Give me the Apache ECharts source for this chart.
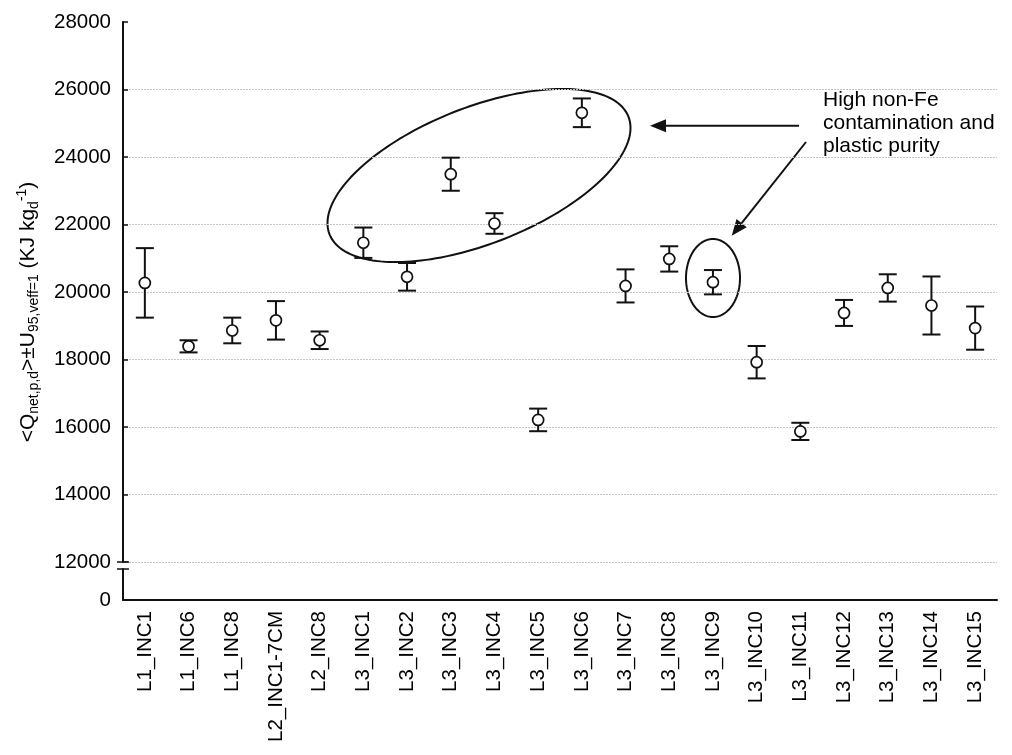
<!DOCTYPE html>
<html>
<head>
<meta charset="utf-8">
<script src="https://cdn.jsdelivr.net/npm/echarts@6/dist/echarts.min.js"></script>
<style>
  html, body { margin: 0; padding: 0; background: #fff; }
  #chart { width: 1012px; height: 755px; }
</style>
</head>
<body>
<div id="chart"></div>
<script>
// Incinerator samples
const categories = ['L1_INC1', 'L1_INC6', 'L1_INC8', 'L2_INC1-7CM', 'L2_INC8',
  'L3_INC1', 'L3_INC2', 'L3_INC3', 'L3_INC4', 'L3_INC5', 'L3_INC6', 'L3_INC7',
  'L3_INC8', 'L3_INC9', 'L3_INC10', 'L3_INC11', 'L3_INC12', 'L3_INC13',
  'L3_INC14', 'L3_INC15'];

// Mean net calorific value (KJ per kg dry)
const meanQ = [20270, 18390, 18860, 19160, 18570, 21460, 20450, 23490, 22030,
  16210, 25310, 20180, 20980, 20290, 17920, 15870, 19380, 20120, 19600, 18930];

// Expanded uncertainty U95
const U95 = [1030, 180, 380, 570, 260, 450, 410, 490, 305, 335, 425, 490, 375,
  360, 480, 255, 385, 405, 860, 640];

// Axis range of the upper (broken) segment
const yMin = 12000;
const yMax = 28000;
const yStep = 2000;

const FONT = "'Liberation Sans', Arial, sans-serif";
const INK = '#111';

const chart = echarts.init(document.getElementById('chart'), null, { renderer: 'canvas' });

const errData = categories.map((c, i) => [i, meanQ[i] - U95[i], meanQ[i] + U95[i]]);

// grid lines at every step except the top
const nLines = (yMax - yMin) / yStep + 1;
const gridColors = [];
for (let k = 0; k < nLines; k++) gridColors.push(k === nLines - 1 ? 'rgba(0,0,0,0)' : '#c4c4c4');

// ellipse outline as a polygon
function ellipsePoints(cx, cy, a, b, phiDeg) {
  const phi = phiDeg * Math.PI / 180;
  const pts = [];
  for (let k = 0; k < 180; k++) {
    const t = k / 180 * Math.PI * 2;
    pts.push([
      cx + a * Math.cos(t) * Math.cos(phi) - b * Math.sin(t) * Math.sin(phi),
      cy + a * Math.cos(t) * Math.sin(phi) + b * Math.sin(t) * Math.cos(phi)
    ]);
  }
  return pts;
}

// arrow: shaft plus filled head
function arrow(x1, y1, x2, y2) {
  const ang = Math.atan2(y2 - y1, x2 - x1);
  const L = 16, W = 6.5;
  const bx = x2 - L * Math.cos(ang), by = y2 - L * Math.sin(ang);
  const nx = -Math.sin(ang), ny = Math.cos(ang);
  return [
    { type: 'line', shape: { x1: x1, y1: y1, x2: bx, y2: by },
      style: { stroke: INK, lineWidth: 2 } },
    { type: 'polygon', shape: { points: [[x2, y2], [bx + nx * W, by + ny * W], [bx - nx * W, by - ny * W]] },
      style: { fill: INK } }
  ];
}

const option = {
  backgroundColor: '#fff',
  animation: false,
  textStyle: { fontFamily: FONT },
  grid: [
    { left: 123, right: 15, top: 22, height: 540 },
    { left: 123, right: 15, top: 569, height: 31 }
  ],
  xAxis: [
    { type: 'category', gridIndex: 0, data: categories, boundaryGap: true, show: false },
    {
      type: 'category', gridIndex: 1, data: categories, boundaryGap: true,
      axisLine: { lineStyle: { color: INK, width: 2 } },
      axisTick: { inside: true, length: 5, lineStyle: { color: INK, width: 1.5 } },
      axisLabel: { rotate: 90, interval: 0, margin: 11, color: '#000', fontSize: 20.5, fontFamily: FONT }
    }
  ],
  yAxis: [
    {
      type: 'value', gridIndex: 0, min: yMin, max: yMax, interval: yStep,
      axisLine: { show: true, lineStyle: { color: INK, width: 2 } },
      axisTick: { show: true, inside: true, length: 5, lineStyle: { color: INK, width: 1.5 } },
      axisLabel: { color: '#000', fontSize: 20.5, fontFamily: FONT, margin: 12,
        formatter: v => String(v) },
      splitLine: { show: true, lineStyle: { color: gridColors, width: 1, type: [2, 1] } }
    },
    {
      type: 'value', gridIndex: 1, min: 0, max: 1, interval: 1,
      axisLine: { show: true, lineStyle: { color: INK, width: 2 } },
      axisTick: { show: false },
      axisLabel: { color: '#000', fontSize: 20.5, fontFamily: FONT, margin: 12,
        formatter: v => (v === 0 ? '0' : '') },
      splitLine: { show: false }
    }
  ],
  series: [
    {
      type: 'custom', xAxisIndex: 0, yAxisIndex: 0, z: 3,
      data: errData,
      renderItem: function (params, api) {
        const i = api.value(0);
        const lo = api.coord([i, api.value(1)]);
        const hi = api.coord([i, api.value(2)]);
        const hw = 9;
        const st = { stroke: INK, lineWidth: 2 };
        return {
          type: 'group',
          children: [
            { type: 'line', shape: { x1: lo[0], y1: lo[1], x2: hi[0], y2: hi[1] }, style: st },
            { type: 'line', shape: { x1: hi[0] - hw, y1: hi[1], x2: hi[0] + hw, y2: hi[1] }, style: st },
            { type: 'line', shape: { x1: lo[0] - hw, y1: lo[1], x2: lo[0] + hw, y2: lo[1] }, style: st }
          ]
        };
      }
    },
    {
      type: 'scatter', xAxisIndex: 0, yAxisIndex: 0, z: 5,
      data: meanQ,
      symbol: 'circle', symbolSize: 11,
      itemStyle: { color: '#fff', borderColor: INK, borderWidth: 1.7, opacity: 1 }
    }
  ],
  graphic: [
    // axis break marks
    { type: 'line', shape: { x1: 117, y1: 562, x2: 129, y2: 562 }, style: { stroke: INK, lineWidth: 1.5 } },
    { type: 'line', shape: { x1: 117, y1: 569, x2: 129, y2: 569 }, style: { stroke: INK, lineWidth: 1.5 } },
    // y-axis title
    {
      type: 'text', x: 28, y: 312, rotation: Math.PI / 2,
      style: {
        text: '<Q{sub|net,p,d}>±U{sub|95,veff=1} (KJ kg{sub|d}{sup|-1})',
        fontSize: 21, fontFamily: FONT, fill: '#000',
        align: 'center', verticalAlign: 'middle', lineHeight: 26,
        rich: {
          sub: { fontSize: 14, fontFamily: FONT, fill: '#000', lineHeight: 16, verticalAlign: 'bottom' },
          sup: { fontSize: 14, fontFamily: FONT, fill: '#000', lineHeight: 12, verticalAlign: 'top' }
        }
      }
    },
    // annotation
    {
      type: 'text', x: 823, y: 89,
      style: {
        text: 'High non-Fe\ncontamination and\nplastic purity',
        fontSize: 21, fontFamily: FONT, fill: '#000', lineHeight: 23,
        align: 'left', verticalAlign: 'top'
      }
    },
    { type: 'polygon', shape: { points: ellipsePoints(479, 175.5, 160.6, 68.2, -21.5) },
      style: { fill: 'none', stroke: INK, lineWidth: 2 } },
    { type: 'polygon', shape: { points: ellipsePoints(713, 278, 27, 39, 0) },
      style: { fill: 'none', stroke: INK, lineWidth: 2 } },
    ...arrow(799, 125.7, 650, 125.7),
    ...arrow(806, 142, 731.7, 235.7)
  ]
};

chart.setOption(option);
</script>
</body>
</html>
